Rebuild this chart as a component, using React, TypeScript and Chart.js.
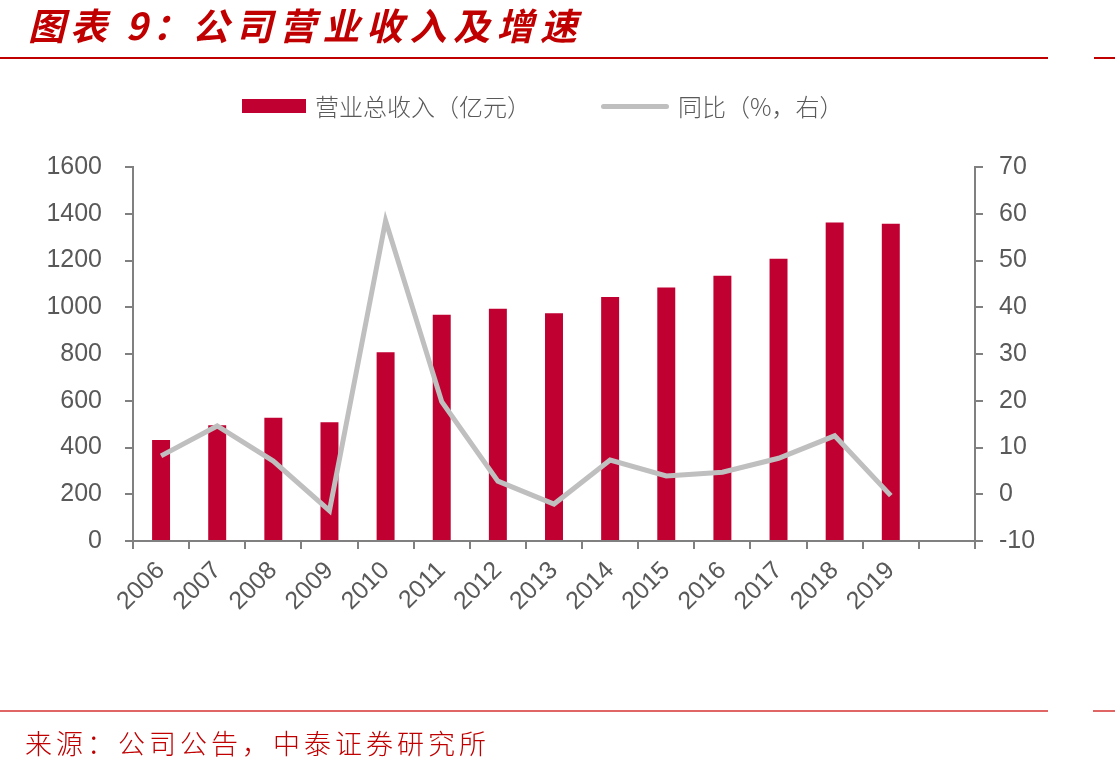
import React, { useEffect, useRef } from "react";
import { Chart, registerables } from "chart.js";

Chart.register(...registerables);

// Years on the category axis; the trailing blank keeps an empty slot at the right end
const years = ["2006", "2007", "2008", "2009", "2010", "2011", "2012", "2013", "2014", "2015", "2016", "2017", "2018", "2019", ""];

// Total operating revenue (100 million yuan)
const revenue = [432, 495, 527, 508, 807, 968, 994, 974, 1044, 1085, 1135, 1208, 1363, 1357, null];

// Year-on-year growth (%), right axis
const growth = [8.2, 14.6, 7.1, -3.5, 58.5, 19.8, 2.8, -2.1, 7.3, 3.9, 4.7, 7.7, 12.5, -0.3, null];

const leftTicks = { min: 0, max: 1600, step: 200 };
const rightTicks = { min: -10, max: 70, step: 10 };

const BAR_RED = "#BF0031";
const LINE_GREY = "#BFBFBF";
const AXIS_GREY = "#808080";
const LABEL_GREY = "#595959";
const TITLE_RED = "#C00000";

const CJK = '"Noto Sans CJK SC", "Noto Sans", sans-serif';

export default function App() {
  const canvasRef = useRef<HTMLCanvasElement | null>(null);

  useEffect(() => {
    const canvas = canvasRef.current;
    if (!canvas) return;
    Chart.defaults.font.family = '"Liberation Sans", Arial, sans-serif';

    const tickFont = { size: 25 };
    const plain = (v: any) => String(v);

    const chart = new Chart(canvas, {
      type: "bar",
      data: {
        labels: years,
        datasets: [
          {
            type: "line",
            label: "同比（%，右）",
            data: growth,
            yAxisID: "y1",
            borderColor: LINE_GREY,
            backgroundColor: LINE_GREY,
            borderWidth: 5,
            pointRadius: 0,
            tension: 0,
            order: 0,
          },
          {
            type: "bar",
            label: "营业总收入（亿元）",
            data: revenue,
            yAxisID: "y",
            backgroundColor: BAR_RED,
            categoryPercentage: 1,
            barPercentage: 0.32,
            order: 1,
          },
        ],
      },
      options: {
        responsive: false,
        animation: false,
        layout: { padding: { top: 167, left: 0, right: 0, bottom: 0 } },
        plugins: {
          legend: { display: false },
          tooltip: { enabled: false },
          title: { display: false },
        },
        scales: {
          x: {
            type: "category",
            offset: true,
            grid: {
              display: true,
              drawOnChartArea: false,
              drawTicks: true,
              tickLength: 8,
              color: AXIS_GREY,
              lineWidth: 2,
              offset: true,
            },
            border: { display: true, color: AXIS_GREY, width: 2 },
            ticks: {
              color: LABEL_GREY,
              font: tickFont,
              minRotation: 45,
              maxRotation: 45,
              autoSkip: false,
              padding: 7,
            },
            afterFit: (scale: any) => {
              scale.height = 233;
            },
          },
          y: {
            type: "linear",
            position: "left",
            min: leftTicks.min,
            max: leftTicks.max,
            grid: {
              display: true,
              drawOnChartArea: false,
              drawTicks: true,
              tickLength: 8,
              color: AXIS_GREY,
              lineWidth: 2,
            },
            border: { display: true, color: AXIS_GREY, width: 2 },
            ticks: {
              stepSize: leftTicks.step,
              color: LABEL_GREY,
              font: tickFont,
              padding: 23,
              callback: plain,
            },
            afterFit: (scale: any) => {
              scale.width = 133;
            },
          },
          y1: {
            type: "linear",
            position: "right",
            min: rightTicks.min,
            max: rightTicks.max,
            grid: {
              display: true,
              drawOnChartArea: false,
              drawTicks: true,
              tickLength: 8,
              color: AXIS_GREY,
              lineWidth: 2,
            },
            border: { display: true, color: AXIS_GREY, width: 2 },
            ticks: {
              stepSize: rightTicks.step,
              color: LABEL_GREY,
              font: tickFont,
              padding: 16,
              callback: plain,
            },
            afterFit: (scale: any) => {
              scale.width = 140;
            },
          },
        },
      },
    } as any);

    return () => {
      chart.destroy();
    };
  }, []);

  const abs = (style: React.CSSProperties): React.CSSProperties => ({ position: "absolute", ...style });

  return (
    <div
      style={{
        position: "fixed",
        left: 0,
        top: 0,
        width: 1115,
        height: 774,
        background: "#ffffff",
        overflow: "hidden",
      }}
    >
      <canvas ref={canvasRef} width={1115} height={774} style={abs({ left: 0, top: 0, width: 1115, height: 774 })} />

      {/* Title */}
      <span
        style={abs({
          left: 28,
          top: 6,
          fontFamily: CJK,
          fontWeight: 700,
          fontStyle: "italic",
          fontSize: 37,
          lineHeight: "37px",
          letterSpacing: 5,
          color: TITLE_RED,
          whiteSpace: "nowrap",
        })}
      >
        图表 9：
      </span>
      <span
        style={abs({
          left: 192,
          top: 6,
          fontFamily: CJK,
          fontWeight: 700,
          fontStyle: "italic",
          fontSize: 37,
          lineHeight: "37px",
          letterSpacing: 6.5,
          color: TITLE_RED,
          whiteSpace: "nowrap",
        })}
      >
        公司营业收入及增速
      </span>

      {/* Rules under the title */}
      <div style={abs({ left: 0, top: 57, width: 1048, height: 1.5, background: TITLE_RED })} />
      <div style={abs({ left: 1094, top: 57, width: 21, height: 1.5, background: TITLE_RED })} />

      {/* Legend */}
      <div style={abs({ left: 242, top: 99, width: 64, height: 14, background: BAR_RED })} />
      <span
        style={abs({
          left: 315,
          top: 93,
          fontFamily: CJK,
          fontWeight: 300,
          fontSize: 24,
          lineHeight: "26px",
          color: LABEL_GREY,
          whiteSpace: "nowrap",
        })}
      >
        营业总收入（亿元）
      </span>
      <div style={abs({ left: 601, top: 104, width: 68, height: 4.5, borderRadius: 3, background: LINE_GREY })} />
      <span
        style={abs({
          left: 678,
          top: 93,
          fontFamily: CJK,
          fontWeight: 300,
          fontSize: 24,
          lineHeight: "26px",
          color: LABEL_GREY,
          whiteSpace: "nowrap",
        })}
      >
        同比（%，右）
      </span>

      {/* Source rule and note */}
      <div style={abs({ left: 0, top: 710, width: 1048, height: 2, background: "#E06666" })} />
      <div style={abs({ left: 1093, top: 710, width: 22, height: 2, background: "#E06666" })} />
      <span
        style={abs({
          left: 25,
          top: 728,
          fontFamily: CJK,
          fontWeight: 300,
          fontSize: 27,
          lineHeight: "30px",
          letterSpacing: 4,
          color: TITLE_RED,
          whiteSpace: "nowrap",
        })}
      >
        来源：公司公告，中泰证券研究所
      </span>
    </div>
  );
}
